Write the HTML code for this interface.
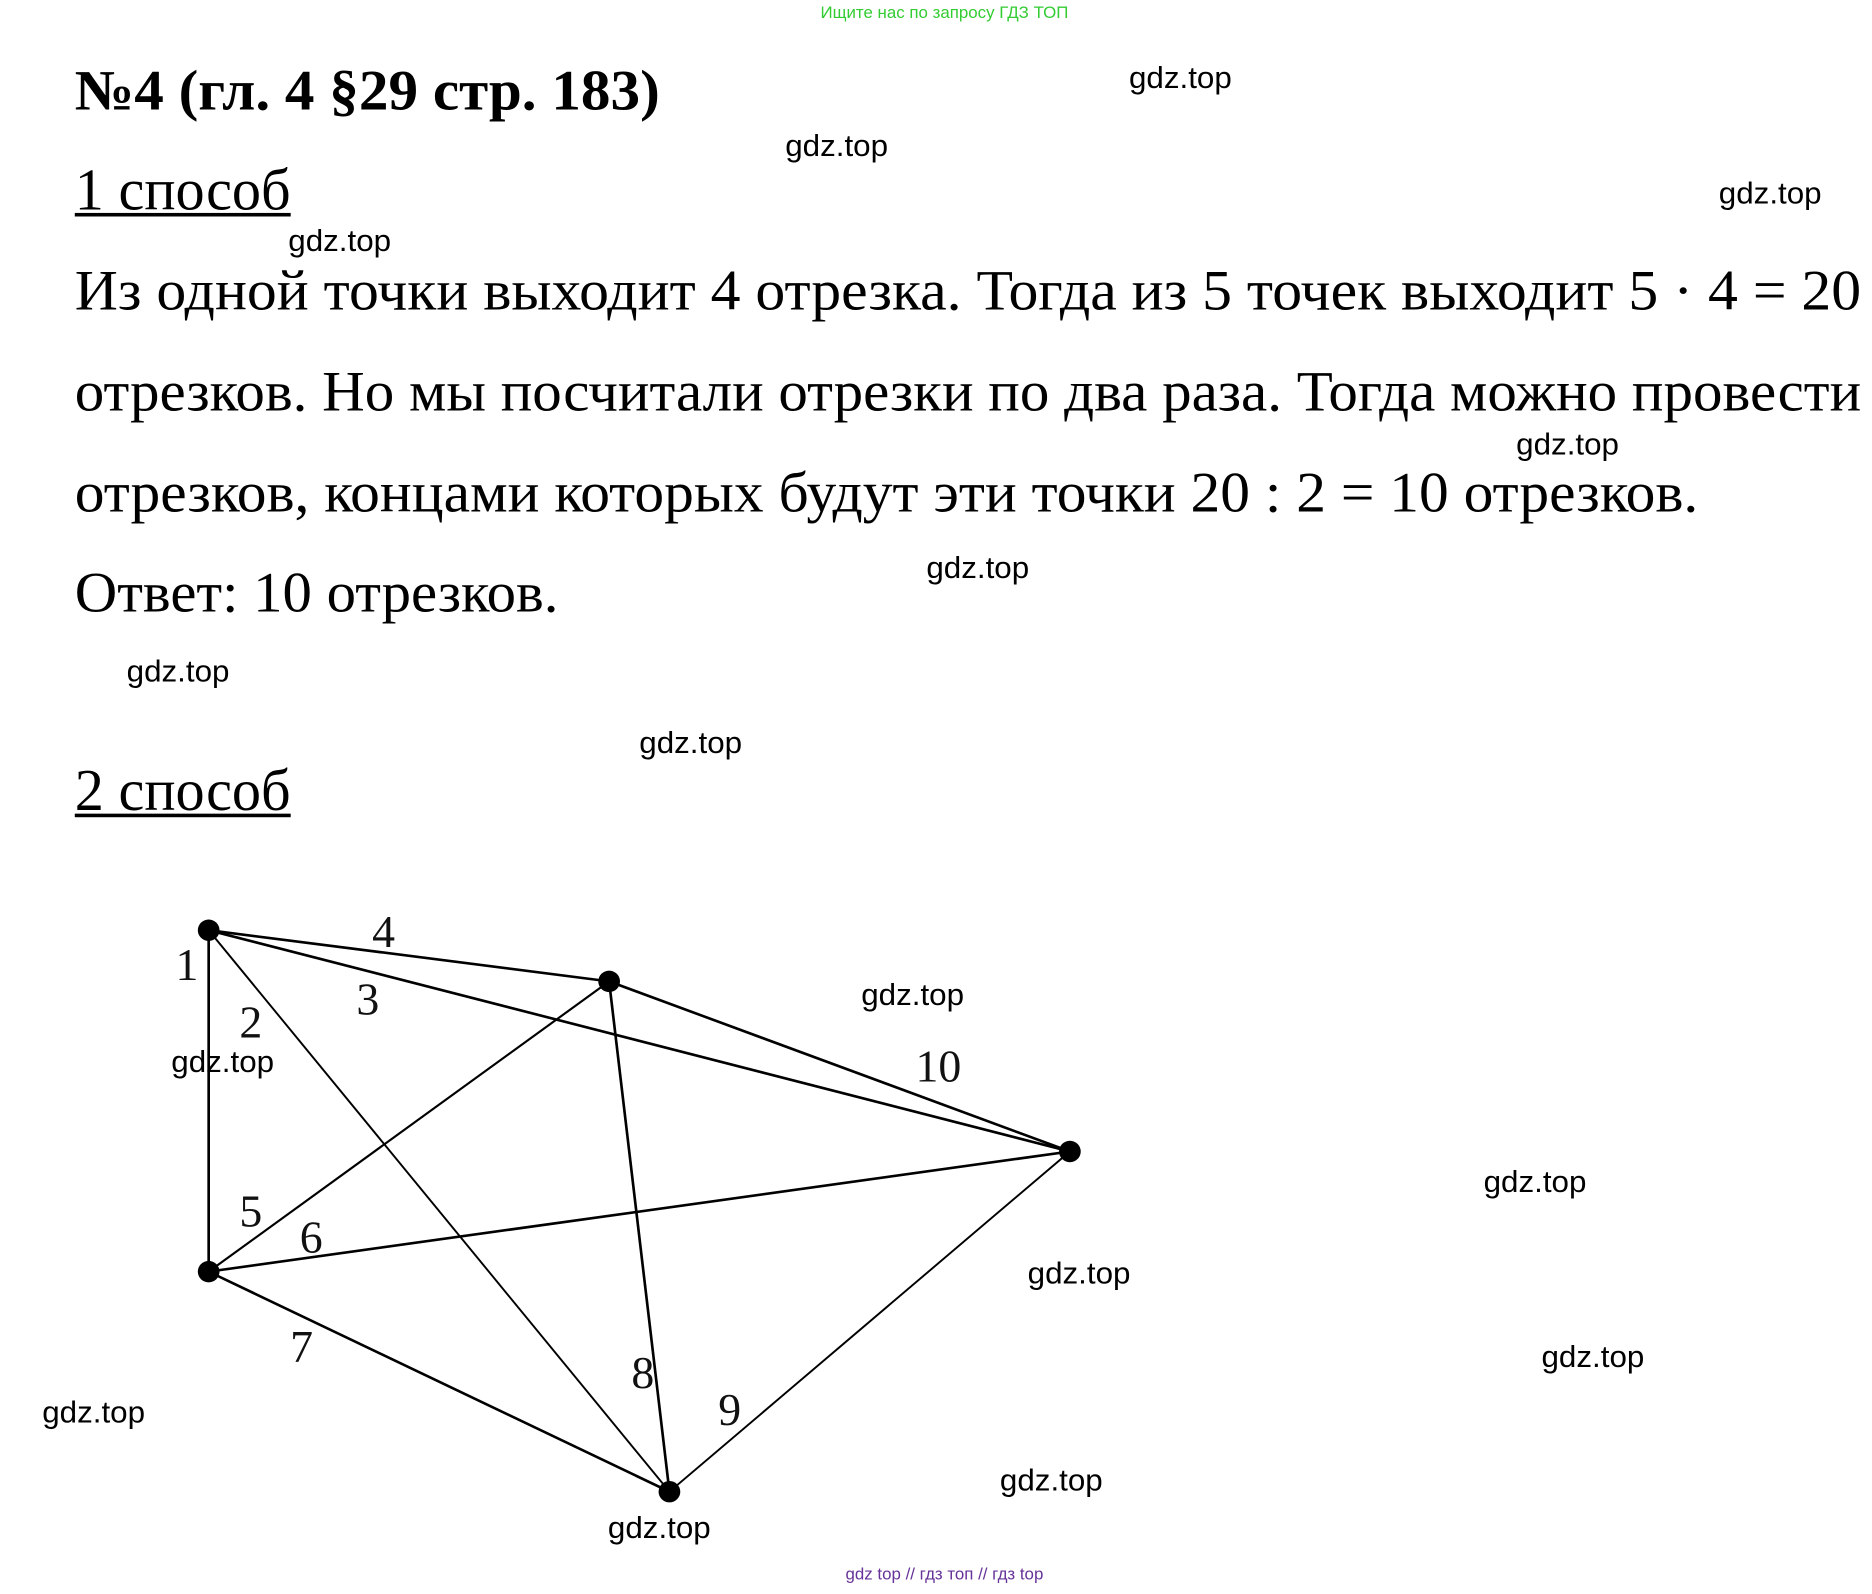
<!DOCTYPE html>
<html><head><meta charset="utf-8">
<style>
html,body{margin:0;padding:0;background:#fff;}
svg{display:block;}
.s{font-family:"Liberation Serif","DejaVu Serif",serif;fill:#000;}
.g{font-family:"Liberation Sans","DejaVu Sans",sans-serif;font-size:26px;fill:#000;}
.n{font-family:"Liberation Serif",serif;font-size:38px;fill:#111;}
</style></head>
<body>
<svg width="1872" height="1594" viewBox="0 0 1552 1340" preserveAspectRatio="none" xmlns="http://www.w3.org/2000/svg">
<text x="783" y="15" text-anchor="middle" font-family="Liberation Sans,sans-serif" font-size="14" fill="#33cc33">Ищите нас по запросу ГДЗ ТОП</text>
<text class="s" x="62" y="92" font-size="48" font-weight="bold" textLength="485" lengthAdjust="spacingAndGlyphs">№4 (гл. 4 §29 стр. 183)</text>
<text class="s" x="62" y="176" font-size="50" textLength="179" lengthAdjust="spacingAndGlyphs">1 способ</text>
<rect x="62" y="179" width="179" height="3" fill="#000"/>
<text class="s" x="62" y="260" font-size="48" textLength="1481" lengthAdjust="spacingAndGlyphs">Из одной точки выходит 4 отрезка. Тогда из 5 точек выходит 5 · 4 = 20</text>
<text class="s" x="62" y="345" font-size="48" textLength="1481" lengthAdjust="spacingAndGlyphs">отрезков. Но мы посчитали отрезки по два раза. Тогда можно провести</text>
<text class="s" x="62" y="430" font-size="48" textLength="1346" lengthAdjust="spacingAndGlyphs">отрезков, концами которых будут эти точки 20 : 2 = 10 отрезков.</text>
<text class="s" x="62" y="514" font-size="48" textLength="401" lengthAdjust="spacingAndGlyphs">Ответ: 10 отрезков.</text>
<text class="s" x="62" y="681" font-size="50" textLength="179" lengthAdjust="spacingAndGlyphs">2 способ</text>
<rect x="62" y="684" width="179" height="3" fill="#000"/>

<g stroke="#000" stroke-width="2.2" fill="none">
<line x1="173" y1="782" x2="505" y2="825"/>
<line x1="173" y1="782" x2="887" y2="968"/>
<line x1="173" y1="782" x2="173" y2="1069"/>
<line x1="173" y1="782" x2="555" y2="1254" stroke-width="1.6"/>
<line x1="505" y1="825" x2="887" y2="968"/>
<line x1="505" y1="825" x2="173" y2="1069" stroke-width="1.8"/>
<line x1="505" y1="825" x2="555" y2="1254"/>
<line x1="887" y1="968" x2="173" y2="1069"/>
<line x1="887" y1="968" x2="555" y2="1254" stroke-width="1.6"/>
<line x1="173" y1="1069" x2="555" y2="1254"/>
</g>
<g fill="#000">
<circle cx="173" cy="782" r="9"/><circle cx="505" cy="825" r="9"/>
<circle cx="887" cy="968" r="9"/><circle cx="173" cy="1069" r="9"/>
<circle cx="555" cy="1254" r="9"/>
</g>
<g class="n" text-anchor="middle">
<text x="155" y="824">1</text><text x="318" y="796">4</text>
<text x="305" y="853">3</text><text x="208" y="872">2</text>
<text x="778" y="909">10</text><text x="208" y="1031">5</text>
<text x="258" y="1053">6</text><text x="250" y="1145">7</text>
<text x="533" y="1167">8</text><text x="605" y="1198">9</text>
</g>

<g class="g">
<text x="936" y="74">gdz.top</text><text x="651" y="131">gdz.top</text>
<text x="1425" y="171">gdz.top</text><text x="239" y="211">gdz.top</text>
<text x="1257" y="382">gdz.top</text><text x="768" y="486">gdz.top</text>
<text x="105" y="573">gdz.top</text><text x="530" y="633">gdz.top</text>
<text x="714" y="845">gdz.top</text><text x="142" y="901">gdz.top</text>
<text x="1230" y="1002">gdz.top</text><text x="852" y="1079">gdz.top</text>
<text x="1278" y="1149">gdz.top</text><text x="35" y="1196">gdz.top</text>
<text x="829" y="1253">gdz.top</text><text x="504" y="1293">gdz.top</text>
</g>
<text x="783" y="1328" text-anchor="middle" font-family="Liberation Sans,sans-serif" font-size="14" fill="#663399">gdz top  //  гдз топ  //  гдз top</text>
</svg>
</body></html>
